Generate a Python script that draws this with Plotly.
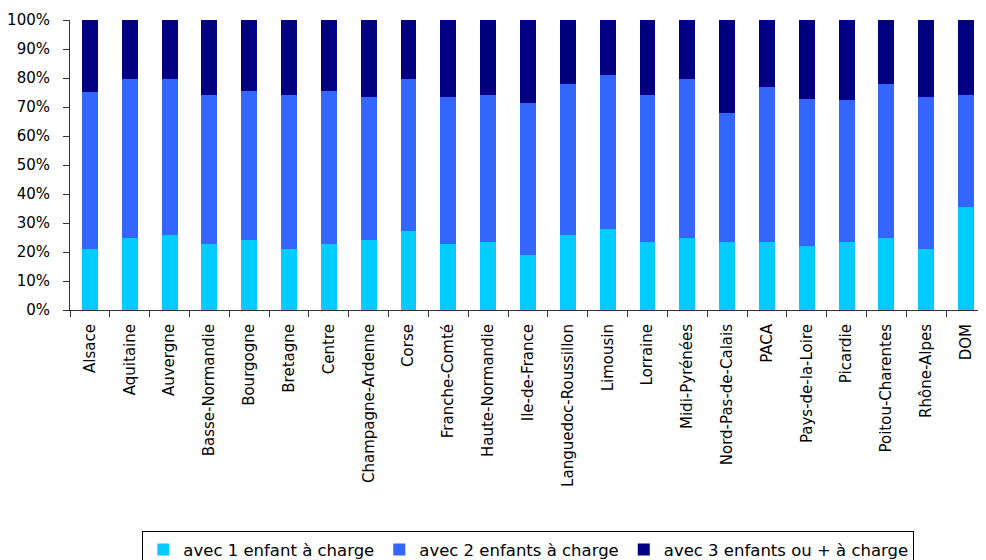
import plotly.graph_objects as go

regions = ["Alsace", "Aquitaine", "Auvergne", "Basse-Normandie", "Bourgogne", "Bretagne",
           "Centre", "Champagne-Ardenne", "Corse", "Franche-Comté", "Haute-Normandie",
           "Ile-de-France", "Languedoc-Roussillon", "Limousin", "Lorraine", "Midi-Pyrénées",
           "Nord-Pas-de-Calais", "PACA", "Pays-de-la-Loire", "Picardie", "Poitou-Charentes",
           "Rhône-Alpes", "DOM"]

un_enfant = [21.2, 24.7, 26.0, 22.9, 24.0, 21.2, 22.9, 24.0, 27.1, 22.9, 23.3,
             19.1, 25.7, 28.1, 23.3, 24.7, 23.6, 23.3, 21.9, 23.6, 25.0, 21.2, 35.4]
deux_enfants = [53.9, 54.9, 53.6, 51.2, 51.5, 52.9, 52.6, 49.4, 52.5, 50.5, 50.8,
                52.2, 52.2, 52.9, 50.8, 54.9, 44.3, 53.5, 50.8, 48.8, 52.9, 52.2, 38.7]
trois_plus = [24.9, 20.4, 20.4, 25.9, 24.5, 25.9, 24.5, 26.6, 20.4, 26.6, 25.9,
              28.7, 22.1, 19.0, 25.9, 20.4, 32.1, 23.2, 27.3, 27.6, 22.1, 26.6, 25.9]

series = [
    ("avec 1 enfant à charge", un_enfant, "#00CCFF"),
    ("avec 2 enfants à charge", deux_enfants, "#3366FF"),
    ("avec 3 enfants ou + à charge", trois_plus, "#000080"),
]

fig = go.Figure()
for name, vals, col in series:
    fig.add_trace(go.Bar(x=regions, y=vals, name=name, marker=dict(color=col, line=dict(width=0))))

font_family = "DejaVu Sans"
fig.update_layout(
    barmode="stack",
    barnorm="percent",
    bargap=0.6,
    width=978, height=552,
    margin=dict(l=62, r=0, t=12, b=250, autoexpand=False),
    plot_bgcolor="white", paper_bgcolor="white",
    font=dict(family=font_family, size=14, color="black"),
    showlegend=True,
    legend=dict(orientation="h", x=0.079, xanchor="left", y=-0.763, yanchor="top",
                bordercolor="black", borderwidth=1, font=dict(size=16.5),
                tracegroupgap=0, itemsizing="constant", traceorder="normal"),
)
fig.update_xaxes(showline=True, linecolor="#333333", linewidth=1, ticks="outside",
                 tickson="boundaries", ticklen=6, tickcolor="#333333", tickangle=-90,
                 tickfont=dict(size=15), showgrid=False, automargin=False,
                 ticklabelstandoff=7)
fig.update_yaxes(range=[0, 100], dtick=10, ticksuffix="%", showline=True, linecolor="#333333",
                 linewidth=1, ticks="outside", ticklen=6, tickcolor="#333333",
                 showgrid=False, zeroline=False, tickfont=dict(size=15), automargin=False,
                 ticklabelstandoff=10)
fig.write_html("out.html")
